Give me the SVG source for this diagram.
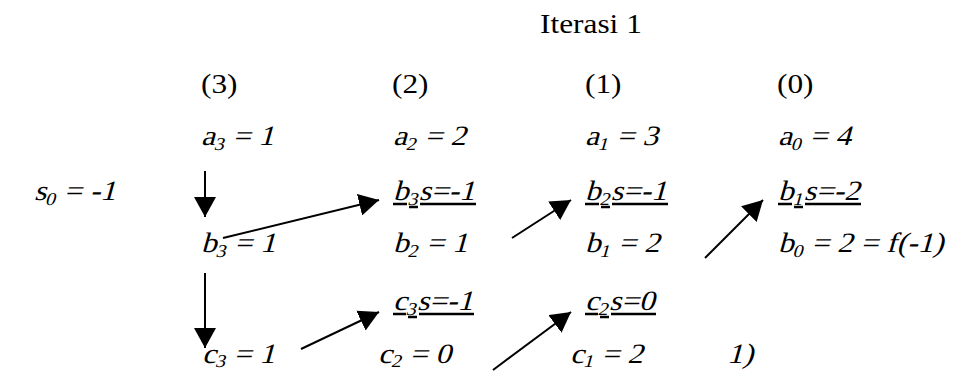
<svg xmlns="http://www.w3.org/2000/svg" width="955" height="372" viewBox="0 0 955 372" font-family="'Liberation Serif', 'Times New Roman', 'DejaVu Serif', serif">
<defs>
<style>
text{font-family:'Liberation Serif','Times New Roman','DejaVu Serif',serif;font-size:28px;font-style:normal;fill:#000;white-space:pre}
.sub{font-size:18px}
.ul{stroke:#000;stroke-width:2.5}
.arr{stroke:#000;stroke-width:2;fill:none;marker-end:url(#ah)}
</style>
<marker id="ah" markerUnits="userSpaceOnUse" markerWidth="22" markerHeight="22" refX="20" refY="11" orient="auto">
<path d="M0,0 L20,11 L0,22 z" fill="#000"/>
</marker>
</defs>
<rect width="955" height="372" fill="#fff"/>
<g id="title"><text transform="translate(540,33) scale(1.12,1)">Iterasi 1</text></g>
<g id="idx3"><text transform="translate(201,93) scale(1.12,1)">(3)</text></g>
<g id="idx2"><text transform="translate(392,93) scale(1.12,1)">(2)</text></g>
<g id="idx1"><text transform="translate(585,93) scale(1.12,1)">(1)</text></g>
<g id="idx0"><text transform="translate(777,93) scale(1.12,1)">(0)</text></g>
<g id="a3"><text transform="translate(201,145) scale(1.12,1) skewX(-14)">a<tspan class="sub" dy="5">3</tspan><tspan dy="-5"> = 1</tspan></text></g>
<g id="a2"><text transform="translate(393,145) scale(1.12,1) skewX(-14)">a<tspan class="sub" dy="5">2</tspan><tspan dy="-5"> = 2</tspan></text></g>
<g id="a1"><text transform="translate(585,145) scale(1.12,1) skewX(-14)">a<tspan class="sub" dy="5">1</tspan><tspan dy="-5"> = 3</tspan></text></g>
<g id="a0"><text transform="translate(778,145) scale(1.12,1) skewX(-14)">a<tspan class="sub" dy="5">0</tspan><tspan dy="-5"> = 4</tspan></text></g>
<g id="s0"><text transform="translate(34,200) scale(1.12,1) skewX(-14)">s<tspan class="sub" dy="5">0</tspan><tspan dy="-5"> = -1</tspan></text></g>
<g id="b3s"><text transform="translate(393,200) scale(1.12,1) skewX(-14)">b<tspan class="sub" dy="5">3</tspan><tspan dy="-5">s=-1</tspan></text>
<line class="ul" x1="393" y1="204" x2="407" y2="204"/><line class="ul" x1="409" y1="207" x2="418" y2="207"/><line class="ul" x1="420" y1="204" x2="476" y2="204"/></g>
<g id="b2s"><text transform="translate(585,200) scale(1.12,1) skewX(-14)">b<tspan class="sub" dy="5">2</tspan><tspan dy="-5">s=-1</tspan></text>
<line class="ul" x1="585" y1="204" x2="599" y2="204"/><line class="ul" x1="601" y1="207" x2="610" y2="207"/><line class="ul" x1="612" y1="204" x2="668" y2="204"/></g>
<g id="b1s"><text transform="translate(778,200) scale(1.12,1) skewX(-14)">b<tspan class="sub" dy="5">1</tspan><tspan dy="-5">s=-2</tspan></text>
<line class="ul" x1="778" y1="204" x2="792" y2="204"/><line class="ul" x1="794" y1="207" x2="803" y2="207"/><line class="ul" x1="805" y1="204" x2="861" y2="204"/></g>
<g id="b3"><text transform="translate(201,252) scale(1.12,1) skewX(-14)">b<tspan class="sub" dy="5">3</tspan><tspan dy="-5"> = 1</tspan></text></g>
<g id="b2"><text transform="translate(393,252) scale(1.12,1) skewX(-14)">b<tspan class="sub" dy="5">2</tspan><tspan dy="-5"> = 1</tspan></text></g>
<g id="b1"><text transform="translate(585,252) scale(1.12,1) skewX(-14)">b<tspan class="sub" dy="5">1</tspan><tspan dy="-5"> = 2</tspan></text></g>
<g id="b0"><text transform="translate(778,252) scale(1.12,1) skewX(-14)">b<tspan class="sub" dy="5">0</tspan><tspan dy="-5"> = 2 = f(-1)</tspan></text></g>
<g id="c3s"><text transform="translate(393,310) scale(1.12,1) skewX(-14)">c<tspan class="sub" dy="5">3</tspan><tspan dy="-5">s=-1</tspan></text>
<line class="ul" x1="393" y1="314" x2="406" y2="314"/><line class="ul" x1="408" y1="317" x2="417" y2="317"/><line class="ul" x1="419" y1="314" x2="474" y2="314"/></g>
<g id="c2s"><text transform="translate(585,310) scale(1.12,1) skewX(-14)">c<tspan class="sub" dy="5">2</tspan><tspan dy="-5">s=0</tspan></text>
<line class="ul" x1="585" y1="314" x2="598" y2="314"/><line class="ul" x1="600" y1="317" x2="609" y2="317"/><line class="ul" x1="611" y1="314" x2="656" y2="314"/></g>
<g id="c3"><text transform="translate(202,363) scale(1.12,1) skewX(-14)">c<tspan class="sub" dy="4">3</tspan><tspan dy="-4"> = 1</tspan></text></g>
<g id="c2"><text transform="translate(378,363) scale(1.12,1) skewX(-14)">c<tspan class="sub" dy="4">2</tspan><tspan dy="-4"> = 0</tspan></text></g>
<g id="c1"><text transform="translate(570,363) scale(1.12,1) skewX(-14)">c<tspan class="sub" dy="4">1</tspan><tspan dy="-4"> = 2</tspan></text></g>
<g id="tail"><text transform="translate(727,363) scale(1.12,1) skewX(-14)">1)</text></g>
<g id="connectors">
<line class="arr" x1="205" y1="171" x2="205" y2="217"/>
<line class="arr" x1="205" y1="273" x2="205" y2="348"/>
<line class="arr" x1="223" y1="238" x2="379" y2="200"/>
<line class="arr" x1="301" y1="349" x2="379" y2="312"/>
<line class="arr" x1="512" y1="238" x2="571" y2="200"/>
<line class="arr" x1="493" y1="370" x2="571" y2="312"/>
<line class="arr" x1="705" y1="258" x2="763" y2="200"/>
</g>
</svg>
